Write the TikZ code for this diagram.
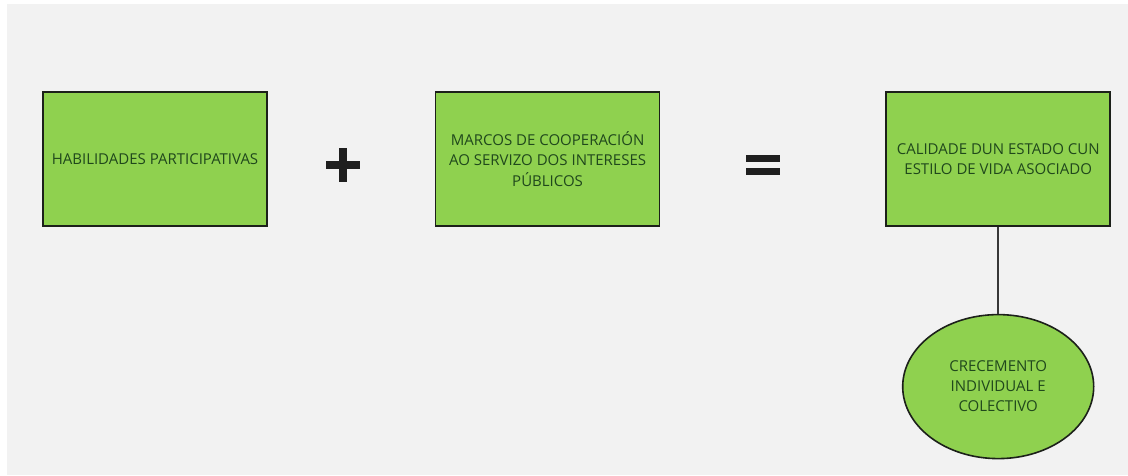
\documentclass[tikz,border=0pt]{standalone}
\usepackage{fontspec}
\setmainfont{Open Sans}
\usepackage{tikz}
\usetikzlibrary{positioning,shapes.geometric}

\definecolor{boxgreen}{RGB}{143,209,79}
\definecolor{txtgreen}{RGB}{32,72,28}
\definecolor{canvas}{RGB}{242,242,242}
\definecolor{edge}{RGB}{28,32,26}

\begin{document}
\begin{tikzpicture}[
  x=1pt,y=1pt,
  box/.style={rectangle,draw=edge,line width=1.6pt,fill=boxgreen,
              minimum width=224pt,minimum height=134pt,inner sep=2pt,
              font=\fontsize{15}{20.5}\selectfont,text=txtgreen,align=center},
  oval/.style={ellipse,draw=edge,line width=1.6pt,fill=boxgreen,
               minimum width=191pt,minimum height=144pt,inner sep=0pt,
               font=\fontsize{15}{20}\selectfont,text=txtgreen,align=center},
  link/.style={line width=1.6pt,draw=black!78}
]
% canvas
\fill[white] (0,0) rectangle (1128,-475);
\fill[canvas] (7,-4) rectangle (1128,-475);
\useasboundingbox (0,0) rectangle (1128,-475);

\node[box] (hab) at (155,-159) {HABILIDADES PARTICIPATIVAS};
\node[box] (marcos) [right=167pt of hab] {MARCOS DE COOPERACIÓN\\AO SERVIZO DOS INTERESES\\PÚBLICOS};
\node[box] (calidade) [right=225pt of marcos] {CALIDADE DUN ESTADO CUN\\ESTILO DE VIDA ASOCIADO};
\node[oval] (crec) [below=87pt of calidade] {CRECEMENTO\\INDIVIDUAL E\\COLECTIVO};

% plus and equals signs
\fill[black!88] (326,-161) rectangle (360,-169);
\fill[black!88] (339,-148) rectangle (347,-182);
\fill[black!88] (746,-155) rectangle (780,-162);
\fill[black!88] (746,-168) rectangle (780,-175);

\draw[link] (calidade) -- (crec);
\end{tikzpicture}
\end{document}
